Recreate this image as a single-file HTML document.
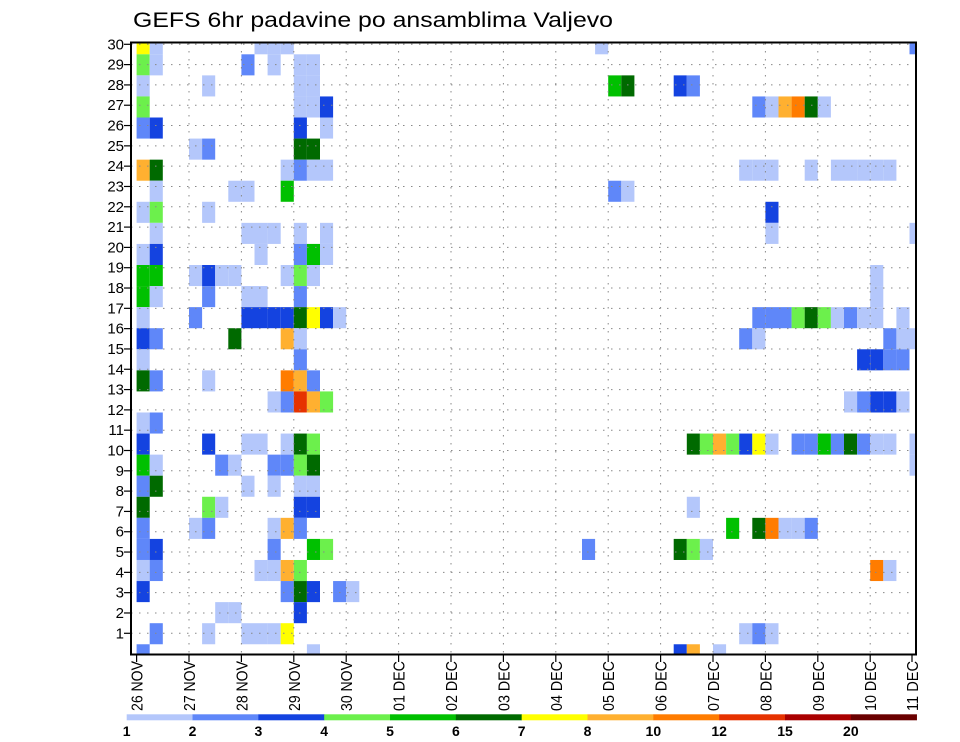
<!DOCTYPE html>
<html><head><meta charset="utf-8"><title>GEFS 6hr padavine po ansamblima Valjevo</title>
<style>html,body{margin:0;padding:0;background:#fff;}svg{display:block;font-family:"Liberation Sans",sans-serif;}</style>
</head><body>
<svg id="chart" width="960" height="742" viewBox="0 0 960 742" xmlns="http://www.w3.org/2000/svg">
<text x="133" y="27" font-size="21" textLength="480" lengthAdjust="spacingAndGlyphs" fill="#000">GEFS 6hr padavine po ansamblima Valjevo</text>
<g id="cells"></g>
<g id="grid"></g>
<rect x="131" y="42.5" width="785" height="612" fill="none" stroke="#000" stroke-width="2"/>
<g id="axes"></g>
<g id="cbar"></g>
</svg>
<script>
// categories / labels
const dayLabels = ["26 NOV","27 NOV","28 NOV","29 NOV","30 NOV","01 DEC","02 DEC","03 DEC","04 DEC","05 DEC","06 DEC","07 DEC","08 DEC","09 DEC","10 DEC","11 DEC"];
const memberTicks = [1,2,3,4,5,6,7,8,9,10,11,12,13,14,15,16,17,18,19,20,21,22,23,24,25,26,27,28,29,30];
const levels = [1,2,3,4,5,6,7,8,10,12,15,20];
const levelColors = ["#b4c7fb","#5f87f9","#1443e0","#6cf04c","#00c000","#006a00","#ffff00","#ffb030","#ff7c00","#e63200","#aa0000","#6a0000"];
// precipitation per ensemble member row (top to bottom): [6-hour step index, mm]
const precip = [
[[0,7.5],[1,1.5],[9,1.5],[10,1.5],[11,1.5],[35,1.5],[59,2.5]],
[[0,4.5],[1,1.5],[8,2.5],[10,1.5],[12,1.5],[13,1.5]],
[[0,1.5],[5,1.5],[12,1.5],[13,1.5],[36,5.5],[37,6.5],[41,3.5],[42,2.5]],
[[0,4.5],[12,1.5],[13,1.5],[14,3.5],[47,2.5],[48,1.5],[49,9],[50,11],[51,6.5],[52,1.5]],
[[0,2.5],[1,3.5],[12,3.5],[14,1.5]],
[[4,1.5],[5,2.5],[12,6.5],[13,6.5]],
[[0,9],[1,6.5],[11,1.5],[12,2.5],[13,1.5],[14,1.5],[46,1.5],[47,1.5],[48,1.5],[51,1.5],[53,1.5],[54,1.5],[55,1.5],[56,1.5],[57,1.5]],
[[1,1.5],[7,1.5],[8,1.5],[11,5.5],[36,2.5],[37,1.5]],
[[0,1.5],[1,4.5],[5,1.5],[48,3.5]],
[[1,1.5],[8,1.5],[9,1.5],[10,1.5],[12,1.5],[14,1.5],[48,1.5],[59,1.5]],
[[0,1.5],[1,3.5],[9,1.5],[12,2.5],[13,5.5],[14,1.5]],
[[0,5.5],[1,5.5],[4,1.5],[5,3.5],[6,1.5],[7,1.5],[11,1.5],[12,4.5],[13,1.5],[56,1.5]],
[[0,5.5],[1,1.5],[5,2.5],[8,1.5],[9,1.5],[12,2.5],[56,1.5]],
[[0,1.5],[4,2.5],[8,3.5],[9,3.5],[10,3.5],[11,3.5],[12,6.5],[13,7.5],[14,3.5],[15,1.5],[47,2.5],[48,2.5],[49,2.5],[50,4.5],[51,6.5],[52,4.5],[53,1.5],[54,2.5],[55,1.5],[56,1.5],[58,1.5]],
[[0,3.5],[1,2.5],[7,6.5],[11,9],[12,1.5],[46,2.5],[47,1.5],[57,2.5],[58,1.5],[59,1.5]],
[[0,1.5],[12,2.5],[55,3.5],[56,3.5],[57,2.5],[58,2.5]],
[[0,6.5],[1,2.5],[5,1.5],[11,11],[12,9],[13,2.5]],
[[10,1.5],[11,2.5],[12,13],[13,9],[14,4.5],[54,1.5],[55,2.5],[56,3.5],[57,3.5],[58,1.5]],
[[0,1.5],[1,2.5]],
[[0,3.5],[5,3.5],[8,1.5],[9,1.5],[11,1.5],[12,6.5],[13,4.5],[42,6.5],[43,4.5],[44,9],[45,4.5],[46,3.5],[47,7.5],[48,1.5],[50,2.5],[51,2.5],[52,5.5],[53,2.5],[54,6.5],[55,2.5],[56,1.5],[57,1.5],[59,1.5]],
[[0,5.5],[1,1.5],[6,2.5],[7,1.5],[10,2.5],[11,2.5],[12,4.5],[13,6.5],[59,1.5]],
[[0,2.5],[1,6.5],[8,1.5],[10,1.5],[12,1.5],[13,1.5]],
[[0,6.5],[5,4.5],[6,1.5],[12,3.5],[13,3.5],[42,1.5]],
[[0,2.5],[4,1.5],[5,2.5],[10,1.5],[11,9],[12,2.5],[45,5.5],[47,6.5],[48,11],[49,1.5],[50,1.5],[51,2.5]],
[[0,2.5],[1,3.5],[10,2.5],[13,5.5],[14,4.5],[34,2.5],[41,6.5],[42,4.5],[43,1.5]],
[[0,1.5],[1,2.5],[9,1.5],[10,1.5],[11,9],[12,4.5],[56,11],[57,1.5]],
[[0,3.5],[11,2.5],[12,6.5],[13,3.5],[15,2.5],[16,1.5]],
[[6,1.5],[7,1.5],[12,3.5]],
[[1,2.5],[5,1.5],[8,1.5],[9,1.5],[10,1.5],[11,7.5],[46,1.5],[47,2.5],[48,1.5]],
[[0,2.5],[13,1.5],[41,3.5],[42,9],[44,1.5]]
];

const NS = "http://www.w3.org/2000/svg";
const PL = 131, PR = 916, PT = 43, PB = 654;
const X0 = 136.6, DAYW = 52.4, STEPW = DAYW / 4;
const ROW0 = 54.3, ROWH = 21.07;
function xStep(i){ return X0 + i * STEPW; }
function xDay(d){ return X0 + d * DAYW; }
function yRow(r){ return ROW0 + (r - 1) * ROWH; }
function yTick(m){ return 44.3 + (30 - m) * 20.31; }
function colorFor(v){ let k = -1; for (let i = 0; i < levels.length; i++) if (v >= levels[i]) k = i; return k < 0 ? null : levelColors[k]; }
function mk(tag, attrs, parent){ const e = document.createElementNS(NS, tag); for (const k in attrs) e.setAttribute(k, attrs[k]); parent.appendChild(e); return e; }

const cellsG = document.getElementById('cells');
precip.forEach((row, r) => {
  row.forEach(([step, v]) => {
    const c = colorFor(v); if (!c) return;
    let x = xStep(step), w = STEPW, y = yRow(r), h = ROWH;
    const x2 = Math.min(x + w, PR), y1 = Math.max(y, PT), y2 = Math.min(y + h, PB);
    if (x2 <= x || y2 <= y1) return;
    const el = mk('rect', {x: x.toFixed(2), y: y1.toFixed(2), width: (x2 - x).toFixed(2), height: (y2 - y1).toFixed(2), fill: c}, cellsG);
    
    
  });
});

const gridG = document.getElementById('grid');
memberTicks.forEach(m => {
  const y = yTick(m);
  const l = mk('line', {x1: PL, x2: PR, y1: y, y2: y, stroke: '#888', 'stroke-width': 1, 'stroke-dasharray': '1.5,6.5'}, gridG);
  
  
});
dayLabels.forEach((lab, d) => {
  const x = xDay(d); if (x <= PL + 8 || x >= PR - 1) return;
  const l = mk('line', {x1: x, x2: x, y1: PT, y2: PB, stroke: '#888', 'stroke-width': 1, 'stroke-dasharray': '1.5,6.5'}, gridG);
  
  
});

const axesG = document.getElementById('axes');
memberTicks.forEach(m => {
  const y = yTick(m);
  const t = mk('line', {x1: 124, x2: PL, y1: y, y2: y, stroke: '#000', 'stroke-width': 1.2}, axesG);
  
  
  const tx = mk('text', {x: 124, y: y + 5, 'font-size': 15, 'text-anchor': 'end', fill: '#000'}, axesG);
  tx.textContent = m;
  
  
});
dayLabels.forEach((lab, d) => {
  let x = xDay(d);
  if (x > PR) x = 912;
  const t = mk('line', {x1: x, x2: x, y1: PB, y2: PB + 8, stroke: '#000', 'stroke-width': 1.2}, axesG);
  
  
  const tx = mk('text', {transform: `translate(${(x + 6).toFixed(1)},661) rotate(-90)`, 'font-size': 16, 'text-anchor': 'end', textLength: 50, lengthAdjust: 'spacingAndGlyphs', fill: '#000'}, axesG);
  tx.textContent = lab;
  
  
});

const cbG = document.getElementById('cbar');
const CB0 = 126.7, CBW = 65.83;
levelColors.forEach((c, i) => {
  const r = mk('rect', {x: CB0 + i * CBW, y: 714.3, width: CBW + 0.3, height: 6, fill: c}, cbG);
  
  
});
levels.forEach((v, i) => {
  const t = mk('text', {x: CB0 + i * CBW, y: 736, 'font-size': 14, 'font-weight': 'bold', 'text-anchor': 'middle', fill: '#000'}, cbG);
  t.textContent = v;
  
  
});
</script>
</body></html>
